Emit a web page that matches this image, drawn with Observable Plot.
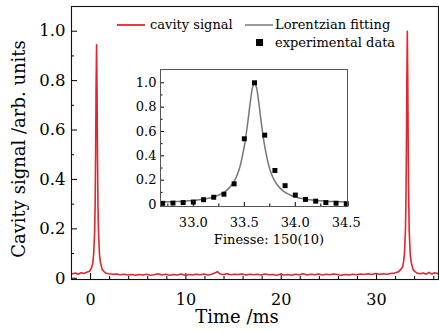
<!DOCTYPE html>
<html>
<head>
<meta charset="utf-8">
<script src="https://cdn.jsdelivr.net/npm/d3@7"></script>
<script src="https://cdn.jsdelivr.net/npm/@observablehq/plot@0.6"></script>
<style>
  html, body { margin: 0; padding: 0; background: white; }
  #wrap { position: relative; width: 439px; height: 332px; overflow: hidden; font-family: "DejaVu Serif", serif; }
  #inset { position: absolute; left: 110px; top: 60px; }
  .lg { position: absolute; font-size: 13px; line-height: 1; white-space: nowrap; color: #000; }
</style>
</head>
<body>
<div id="wrap">
  <div id="main"></div>
  <div id="inset"></div>
  <div id="legend"></div>
</div>
<script>
// ---- main trace: cavity signal (time in ms, signal in arb. units) ----
const sigT = [
  -1.9, -1.6, -1.3, -1.0, -0.7, -0.4, -0.1,
  0.13, 0.23, 0.33, 0.43, 0.48, 0.53, 0.58, 0.63, 0.68, 0.73, 0.78, 0.83, 0.93, 1.03, 1.23, 1.43, 1.63,
  1.9, 2.3, 2.7, 3.1, 3.5, 3.9, 4.3, 4.7, 5.1, 5.5, 5.9, 6.3, 6.7, 7.1, 7.5, 7.9, 8.3, 8.7, 9.1, 9.5, 9.9,
  10.3, 10.7, 11.1, 11.5, 11.9, 12.3, 12.7, 13.1, 13.3, 13.6, 13.9, 14.3, 14.7, 15.1, 15.5, 15.9, 16.3, 16.7,
  17.1, 17.5, 17.9, 18.3, 18.7, 19.1, 19.5, 19.9, 20.3, 20.7, 21.1, 21.5, 21.9, 22.3, 22.7, 23.1, 23.5, 23.9,
  24.3, 24.7, 25.1, 25.5, 25.9, 26.3, 26.7, 27.1, 27.5, 27.9, 28.3, 28.7, 29.1, 29.5, 29.9, 30.3, 30.7, 31.1,
  31.5, 31.9, 32.3,
  32.63, 32.73, 32.83, 32.93, 33.03, 33.08, 33.13, 33.18, 33.23, 33.28, 33.33, 33.38, 33.43, 33.53, 33.63, 33.83, 34.03, 34.3,
  34.6, 34.9, 35.2, 35.5, 35.8, 36.1, 36.4
];
const sigV = [
  0.018, 0.021, 0.016, 0.022, 0.019, 0.024, 0.028,
  0.045, 0.06, 0.10, 0.19, 0.30, 0.50, 0.78, 0.945, 0.76, 0.48, 0.29, 0.19, 0.10, 0.065, 0.035, 0.026, 0.020,
  0.018, 0.016, 0.017, 0.014, 0.016, 0.013, 0.015, 0.012, 0.015, 0.013, 0.016, 0.012, 0.014, 0.018, 0.013, 0.016, 0.012, 0.015, 0.013, 0.017, 0.012,
  0.015, 0.013, 0.016, 0.014, 0.017, 0.013, 0.016, 0.022, 0.027, 0.017, 0.015, 0.018, 0.014, 0.016, 0.015, 0.017, 0.013, 0.016,
  0.014, 0.016, 0.013, 0.017, 0.014, 0.015, 0.012, 0.016, 0.013, 0.015, 0.012, 0.016, 0.014, 0.018, 0.013, 0.016, 0.014, 0.017,
  0.013, 0.016, 0.014, 0.017, 0.015, 0.012, 0.015, 0.013, 0.016, 0.014, 0.017, 0.015, 0.018, 0.015, 0.019, 0.016, 0.018, 0.016,
  0.019, 0.021, 0.026,
  0.040, 0.045, 0.065, 0.10, 0.19, 0.30, 0.50, 0.80, 1.0, 0.79, 0.49, 0.30, 0.19, 0.10, 0.065, 0.035, 0.027, 0.020,
  0.018, 0.021, 0.016, 0.024, 0.017, 0.022, 0.019
];

// ---- inset: experimental data points ----
const expX = [32.7, 32.8, 32.9, 33.0, 33.1, 33.2, 33.3, 33.4, 33.5, 33.6, 33.7, 33.8, 33.9, 34.0, 34.1, 34.2, 34.3, 34.4, 34.5];
const expY = [0.010, 0.012, 0.016, 0.020, 0.040, 0.060, 0.085, 0.17, 0.54, 1.0, 0.57, 0.28, 0.155, 0.078, 0.042, 0.028, 0.016, 0.011, 0.006];

// ---- inset: Lorentzian fitting curve (samples) ----
const fitX = [32.68, 32.8, 32.9, 33.0, 33.1, 33.2, 33.3, 33.35, 33.4, 33.45, 33.5, 33.53, 33.56, 33.58, 33.6,
              33.62, 33.64, 33.67, 33.7, 33.75, 33.8, 33.85, 33.9, 34.0, 34.1, 34.2, 34.3, 34.4, 34.51];
const fitY = [0.020, 0.024, 0.028, 0.034, 0.044, 0.062, 0.10, 0.135, 0.19, 0.29, 0.48, 0.65, 0.85, 0.958, 1.0,
              0.958, 0.85, 0.65, 0.48, 0.29, 0.19, 0.135, 0.10, 0.062, 0.044, 0.034, 0.028, 0.024, 0.020];

// ---- ticks & labels ----
const xMajor = [0, 10, 20, 30];
const xMinor = [-2, 2, 4, 6, 8, 12, 14, 16, 18, 22, 24, 26, 28, 32, 34, 36];
const yMajor = [0, 0.2, 0.4, 0.6, 0.8, 1.0];
const yMinor = [0.1, 0.3, 0.5, 0.7, 0.9];
const inXMajor = [33.0, 33.5, 34.0, 34.5];
const inXMinor = [32.75, 33.25, 33.75, 34.25];
const inYMajor = [0, 0.2, 0.4, 0.6, 0.8, 1.0];
const inYMinor = [0.1, 0.3, 0.5, 0.7, 0.9];
const xTitle = "Time /ms";
const yTitle = "Cavity signal /arb. units";
const insetTitle = "Finesse: 150(10)";
const legendLabels = ["cavity signal", "Lorentzian fitting", "experimental data"];

const RED = "#e3262b";
const fmt = d => d === 0 ? "0" : d.toFixed(1);

const sig = sigT.map((t, i) => ({t, v: sigV[i]}));
const exp = expX.map((x, i) => ({x, y: expY[i]}));
const fit = fitX.map((x, i) => ({x, y: fitY[i]}));

const main = Plot.plot({
  width: 439, height: 332,
  marginLeft: 71, marginRight: 1, marginTop: 6, marginBottom: 53,
  style: {fontFamily: "DejaVu Serif", background: "white", color: "#000", overflow: "visible"},
  x: {domain: [-2, 36.5]},
  y: {domain: [-0.005, 1.1]},
  marks: [
    Plot.axisX(xMinor, {tickSize: -3, fill: "none", label: null}),
    Plot.axisX(xMajor, {tickSize: -6, tickPadding: 20, fontSize: 16, label: null}),
    Plot.axisY(yMinor, {tickSize: -3, fill: "none", label: null}),
    Plot.axisY(yMajor, {tickSize: -6, tickPadding: 12, fontSize: 16.5, tickFormat: fmt, label: null}),
    Plot.line(sig, {x: "t", y: "v", stroke: RED, strokeWidth: 1.6}),
    Plot.frame({stroke: "#111", strokeWidth: 1.1}),
    Plot.text([xTitle], {frameAnchor: "bottom", dx: -18, dy: 43, fontSize: 18, fill: "#000"}),
    Plot.text([yTitle], {frameAnchor: "left", textAnchor: "middle", dx: -52, dy: 6, rotate: -90, fontSize: 18, fill: "#000"})
  ]
});
document.getElementById("main").appendChild(main);

const inset = Plot.plot({
  width: 250, height: 195,
  marginLeft: 50, marginRight: 13, marginTop: 9, marginBottom: 49,
  style: {fontFamily: "DejaVu Serif", background: "transparent", color: "#000", overflow: "visible"},
  x: {domain: [32.678, 34.512]},
  y: {domain: [-0.016, 1.109]},
  marks: [
    Plot.axisX(inXMinor, {tickSize: -2.5, fill: "none", label: null}),
    Plot.axisX(inXMajor, {tickSize: -4, tickPadding: 15, fontSize: 13, tickFormat: fmt, label: null}),
    Plot.axisY(inYMinor, {tickSize: -2.5, fill: "none", label: null}),
    Plot.axisY(inYMajor, {tickSize: -4, tickPadding: 8, fontSize: 13, tickFormat: fmt, label: null}),
    Plot.line(fit, {x: "x", y: "y", stroke: "#777", strokeWidth: 1.5, curve: "catmull-rom"}),
    Plot.dot(exp, {x: "x", y: "y", symbol: "square", r: 2.8, fill: "#000", stroke: "none"}),
    Plot.frame({stroke: "#555", strokeWidth: 1}),
    Plot.text([insetTitle], {frameAnchor: "bottom", dx: 15, dy: 37, fontSize: 13, fill: "#000"})
  ]
});
document.getElementById("inset").appendChild(inset);

// ---- legend ----
const lg = document.getElementById("legend");
function add(html) { lg.insertAdjacentHTML("beforeend", html); }
add(`<svg style="position:absolute;left:117px;top:20px" width="28" height="10"><line x1="0" x2="28" y1="5" y2="5" stroke="${RED}" stroke-width="1.8"/></svg>`);
add(`<span class="lg" style="left:150px;top:18px">${legendLabels[0]}</span>`);
add(`<svg style="position:absolute;left:245px;top:20px" width="28" height="10"><line x1="0" x2="28" y1="5" y2="5" stroke="#777" stroke-width="1.5"/></svg>`);
add(`<span class="lg" style="left:275px;top:18px">${legendLabels[1]}</span>`);
add(`<svg style="position:absolute;left:256px;top:39px" width="7" height="7"><rect x="0" y="0" width="7" height="7" fill="#000"/></svg>`);
add(`<span class="lg" style="left:275px;top:36px">${legendLabels[2]}</span>`);
</script>
</body>
</html>
